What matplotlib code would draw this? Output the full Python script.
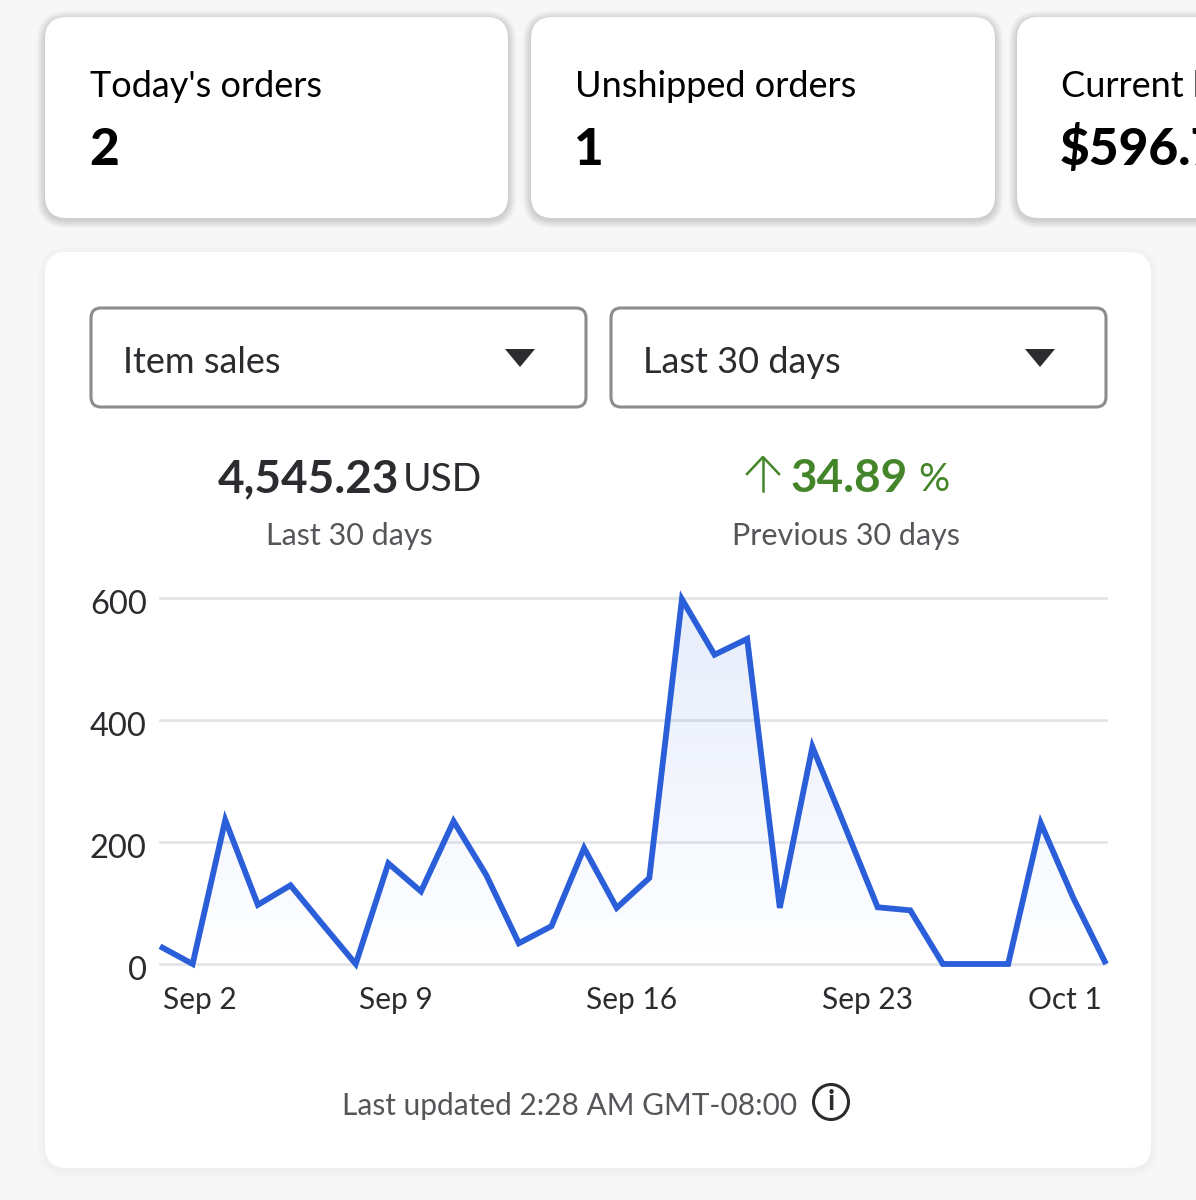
import numpy as np
import matplotlib
matplotlib.use("Agg")
import matplotlib.pyplot as plt
from matplotlib.patches import FancyBboxPatch, Polygon, Circle
from matplotlib.transforms import ScaledTranslation

plt.rcParams['font.family'] = ['Lato', 'DejaVu Sans']

# values, one point per day
sales = [29, 0, 236, 97, 129, 64, 0, 165, 119, 234, 146, 34, 62, 190, 92,
         141, 598, 507, 533, 92, 356, 225, 93, 88, 0, 0, 0, 231, 108, 0]
y_ticks = [0, 200, 400, 600]
tick_labels = ['Sep 2', 'Sep 9', 'Sep 16', 'Sep 23', 'Oct 1']
tick_places = [1.23, 7.23, 14.45, 21.7, 27.75]

DARK = '#2b2b30'
GREY = '#55565a'
GREEN = '#44852a'
BLUE = '#2b5fd9'

W, H = 1196, 1200


def card(ax, x0, y0, x1, y1, shadow=0.03):
    # stacked boxes fake the blurred css shadow
    for grow in range(8, 0, -1):
        ax.add_patch(FancyBboxPatch((x0 - grow, y0 - grow + 2), x1 - x0 + 2 * grow, y1 - y0 + 2 * grow,
                                    boxstyle=f"round,pad=0,rounding_size={22 + grow}",
                                    fc='black', ec='none', alpha=shadow))
    ax.add_patch(FancyBboxPatch((x0, y0), x1 - x0, y1 - y0, boxstyle="round,pad=0,rounding_size=22",
                                fc='white', ec='none'))


def dropdown(ax, x0, x1, label):
    ax.add_patch(FancyBboxPatch((x0, 308), x1 - x0, 99, boxstyle="round,pad=0,rounding_size=10",
                                fc='white', ec='#8c8c8e', lw=2.2))
    ax.text(x0 + 32, 373, label, fontsize=26, color=DARK, va='baseline')
    ax.add_patch(Polygon([[x1 - 81, 349], [x1 - 51, 349], [x1 - 66, 367]], fc=DARK, ec='none'))


fig = plt.figure(figsize=(W / 100, H / 100), dpi=100, facecolor='#f7f7f7')
bg = fig.add_axes([0, 0, 1, 1])
bg.set_xlim(0, W)
bg.set_ylim(H, 0)
bg.axis('off')

# top cards
card(bg, 45, 17, 508, 218, shadow=0.018)
card(bg, 531, 17, 995, 218, shadow=0.018)
card(bg, 1017, 17, 1400, 218, shadow=0.018)
for x, title, value in [(90, "Today's orders", '2'), (575, 'Unshipped orders', '1'),
                        (1061, 'Current balance', '$596.7')]:
    bg.text(x, 97, title, fontsize=26, color='black', va='baseline')
    bg.text(x - 1, 165, value, fontsize=37, fontweight='black', color='black', va='baseline')

# main card
card(bg, 45, 252, 1151, 1168, shadow=0.005)
dropdown(bg, 91, 586, 'Item sales')
dropdown(bg, 611, 1106, 'Last 30 days')

# summary figures
bg.text(218, 492, '4,545.23', fontsize=33, fontweight='bold', color=DARK, va='baseline')
bg.text(403, 491, 'USD', fontsize=28, color=DARK, va='baseline')
bg.text(349, 545, 'Last 30 days', fontsize=22, color=GREY, ha='center', va='baseline')
bg.plot([763, 763], [491, 458], color=GREEN, lw=1.8)
bg.plot([747, 763, 779], [474, 457, 474], color=GREEN, lw=1.8)
bg.text(791, 492, '34.89', fontsize=33, fontweight='bold', color=GREEN, va='baseline')
bg.text(918, 491, '%', fontsize=28, color=GREEN, va='baseline')
bg.text(846, 545, 'Previous 30 days', fontsize=22, color=GREY, ha='center', va='baseline')

# footer
bg.text(570, 1115, 'Last updated 2:28 AM GMT-08:00', fontsize=21.5, color=GREY, ha='center', va='baseline')
bg.add_patch(Circle((831, 1102), 17.5, fc='none', ec=DARK, lw=2.2))
bg.text(831, 1102, 'i', fontsize=20, fontweight='bold', color=DARK, ha='center', va='center')

# line chart
ax = fig.add_axes([160 / W, (H - 964) / H, 946 / W, 366 / H])
ax.patch.set_alpha(0)
days = np.arange(len(sales))
ax.set_xlim(0, len(sales) - 1)
ax.set_ylim(0, 600)
for spine in ax.spines.values():
    spine.set_visible(False)
ax.set_yticks(y_ticks)
ax.set_xticks(tick_places)
ax.set_xticklabels(tick_labels)
ax.tick_params(length=0, labelcolor=DARK)
ax.tick_params(axis='x', pad=16, labelsize=21.5)
ax.tick_params(axis='y', pad=9.5, labelsize=23.5)
nudge = ScaledTranslation(0, -3.5 / 100, fig.dpi_scale_trans)
for lab in ax.get_yticklabels():
    lab.set_transform(lab.get_transform() + nudge)
ax.grid(axis='y', color='#e4e5e9', lw=2)
ax.grid(axis='x', visible=False)
ax.set_axisbelow(True)
for gl in ax.get_ygridlines():
    gl.set_clip_on(False)

# gradient under the line
fill = ax.fill_between(days, sales, 0, color='none')
grad = np.zeros((256, 2, 4))
grad[..., :3] = matplotlib.colors.to_rgb(BLUE)
grad[..., 3] = np.linspace(0.12, 0.0, 256)[:, None]
im = ax.imshow(grad, extent=[0, len(sales) - 1, 0, 600], aspect='auto', origin='upper', zorder=2)
im.set_clip_path(fill.get_paths()[0], transform=ax.transData)

ax.plot(days, sales, color=BLUE, lw=4.2, solid_joinstyle='miter', solid_capstyle='butt',
        clip_on=False, zorder=3)

fig.savefig('out.png', dpi=100, facecolor=fig.get_facecolor())
plt.close(fig)
